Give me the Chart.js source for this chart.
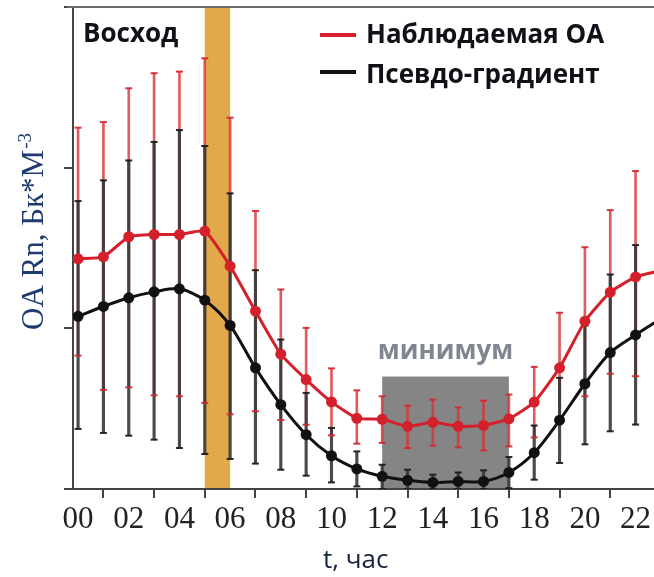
<!DOCTYPE html>
<html>
<head>
<meta charset="utf-8">
<script src="https://cdn.jsdelivr.net/npm/chart.js@4.4.1/dist/chart.umd.min.js"></script>
<style>
html,body{margin:0;padding:0;background:#fff;overflow:hidden;width:654px;height:577px;}
canvas{display:block;}
</style>
</head>
<body>
<canvas id="c" width="700" height="577" style="width:700px;height:577px"></canvas>
<script>
// ---- data ----
const hours = [0,1,2,3,4,5,6,7,8,9,10,11,12,13,14,15,16,17,18,19,20,21,22,23];
const tickHours = [0,2,4,6,8,10,12,14,16,18,20,22];
const tickLabels = ["00","02","04","06","08","10","12","14","16","18","20","22"];

const observed   = [1.433,1.445,1.570,1.584,1.584,1.605,1.387,1.107,0.839,0.681,0.542,0.440,0.434,0.390,0.415,0.390,0.396,0.436,0.541,0.754,1.044,1.225,1.320,1.360];
const observedHi = [2.249,2.284,2.494,2.588,2.598,2.681,2.311,1.730,1.242,1.003,0.751,0.614,0.577,0.519,0.556,0.508,0.550,0.588,0.760,1.097,1.505,1.736,1.979,2.000];
const observedLo = [0.830,0.617,0.633,0.583,0.577,0.536,0.465,0.484,0.430,0.400,0.334,0.282,0.287,0.255,0.270,0.259,0.240,0.265,0.321,0.410,0.577,0.717,0.702,0.720];

const pseudo     = [1.075,1.136,1.190,1.227,1.246,1.175,1.018,0.754,0.525,0.338,0.207,0.125,0.079,0.054,0.041,0.047,0.047,0.103,0.226,0.428,0.655,0.849,0.959,1.060];
const pseudoHi   = [1.792,1.921,2.045,2.160,2.234,2.135,1.840,1.362,0.930,0.598,0.380,0.234,0.151,0.120,0.089,0.103,0.116,0.199,0.395,0.692,1.017,1.335,1.518,1.600];
const pseudoLo   = [0.374,0.349,0.332,0.307,0.255,0.218,0.187,0.158,0.120,0.083,0.041,0.016,0.000,0.000,0.000,0.000,0.000,0.005,0.058,0.162,0.278,0.359,0.401,0.450];

const sunriseBand = [5, 6];          // hours
const minimumBox  = [12, 17, 0.7];   // from hour, to hour, top value

const seriesNames = ["Наблюдаемая ОА", "Псевдо-градиент"];
const sunriseText = "Восход";
const minimumText = "минимум";
const xTitle = "t, час";
const yTitleMain = "OA Rn, Бк*М";
const yTitleSup = "-3";

// ---- colours ----
const RED = '#d4202a';
const BLACK = '#111111';

const pts = (arr) => hours.map((h, i) => ({x: h, y: arr[i]}));
const bars = (lo, hi) => hours.map((h, i) => ({x: h, y: [lo[i], hi[i]]}));
const caps = (arr) => hours.map((h, i) => ({x: h, y: arr[i]}));

const annot = {
  id: 'annot',
  beforeDraw(chart) {
    const {ctx, chartArea: a, scales: {x, y}} = chart;
    ctx.save();
    ctx.fillStyle = '#e2a94b';
    const b0 = x.getPixelForValue(sunriseBand[0]), b1 = x.getPixelForValue(sunriseBand[1]);
    ctx.fillRect(b0, a.top, b1 - b0, a.bottom - a.top);
    ctx.fillStyle = '#858585';
    const m0 = x.getPixelForValue(minimumBox[0]), m1 = x.getPixelForValue(minimumBox[1]);
    const mt = y.getPixelForValue(minimumBox[2]), mb = y.getPixelForValue(0);
    ctx.fillRect(m0, mt, m1 - m0, mb - mt);
    ctx.restore();
  },
  afterDraw(chart) {
    const {ctx, chartArea: a, scales: {x, y}} = chart;
    ctx.save();
    // top frame line
    ctx.strokeStyle = '#6a6a6a';
    ctx.lineWidth = 2;
    ctx.beginPath();
    ctx.moveTo(a.left - 6, a.top);
    ctx.lineTo(a.right, a.top);
    ctx.stroke();

    // sunrise label
    ctx.fillStyle = '#101018';
    ctx.font = 'bold 26px "Open Sans"';
    ctx.textAlign = 'left';
    ctx.textBaseline = 'alphabetic';
    ctx.fillText(sunriseText, 83, 42);

    // legend
    const lx = 320, lw = 36;
    ctx.lineWidth = 4;
    ctx.strokeStyle = RED;
    ctx.beginPath(); ctx.moveTo(lx, 35); ctx.lineTo(lx + lw, 35); ctx.stroke();
    ctx.strokeStyle = BLACK;
    ctx.beginPath(); ctx.moveTo(lx, 72); ctx.lineTo(lx + lw, 72); ctx.stroke();
    ctx.fillText(seriesNames[0], 366, 43);
    ctx.fillText(seriesNames[1], 366, 83);

    // minimum label
    ctx.fillStyle = '#7f8591';
    ctx.textAlign = 'center';
    const mc = (x.getPixelForValue(minimumBox[0]) + x.getPixelForValue(minimumBox[1])) / 2;
    ctx.fillText(minimumText, mc, 359);

    // x title
    ctx.fillStyle = '#16223f';
    ctx.font = '26px "Open Sans"';
    ctx.textAlign = 'left';
    ctx.fillText(xTitle, 323, 568);

    // y title (rotated)
    ctx.translate(43, 330);
    ctx.rotate(-Math.PI / 2);
    ctx.fillStyle = '#1f3a6e';
    ctx.font = '31px "Liberation Serif"';
    ctx.textAlign = 'left';
    ctx.fillText(yTitleMain, 0, 0);
    const w = ctx.measureText(yTitleMain).width;
    ctx.font = '19px "Liberation Serif"';
    ctx.fillText(yTitleSup, w + 1, -12);
    ctx.restore();
  }
};

new Chart(document.getElementById('c'), {
  type: 'line',
  data: {
    datasets: [
      { type: 'line', label: seriesNames[0], data: pts(observed), borderColor: RED, backgroundColor: RED,
        borderWidth: 3, pointRadius: 5.5, pointBackgroundColor: RED, pointBorderWidth: 0, tension: 0.15, order: 1 },
      { type: 'line', label: seriesNames[1], data: pts(pseudo), borderColor: BLACK, backgroundColor: BLACK,
        borderWidth: 3, pointRadius: 5.5, pointBackgroundColor: BLACK, pointBorderWidth: 0, tension: 0.28, order: 2 },
      { type: 'line', label: 'obsHiCap', data: caps(observedHi), showLine: false, pointStyle: 'line',
        pointRadius: 3.5, borderColor: 'rgba(210,40,45,0.9)', pointBorderWidth: 2, order: 3 },
      { type: 'line', label: 'obsLoCap', data: caps(observedLo), showLine: false, pointStyle: 'line',
        pointRadius: 3.5, borderColor: 'rgba(210,40,45,0.9)', pointBorderWidth: 2, order: 3 },
      { type: 'line', label: 'psHiCap', data: caps(pseudoHi), showLine: false, pointStyle: 'line',
        pointRadius: 3.5, borderColor: 'rgba(30,30,30,0.95)', pointBorderWidth: 2, order: 4 },
      { type: 'line', label: 'psLoCap', data: caps(pseudoLo), showLine: false, pointStyle: 'line',
        pointRadius: 3.5, borderColor: 'rgba(30,30,30,0.95)', pointBorderWidth: 2, order: 4 },
      { type: 'bar', label: 'psErr', data: bars(pseudoLo, pseudoHi), backgroundColor: 'rgba(55,55,55,0.9)',
        barThickness: 2.5, grouped: false, borderWidth: 0, order: 5 },
      { type: 'bar', label: 'obsErr', data: bars(observedLo, observedHi), backgroundColor: 'rgba(215,50,55,0.8)',
        barThickness: 2, grouped: false, borderWidth: 0, order: 6 }
    ]
  },
  options: {
    responsive: false,
    animation: false,
    devicePixelRatio: 1,
    layout: { padding: { left: 0, top: 7, right: 34, bottom: 0 } },
    plugins: { legend: { display: false }, tooltip: { enabled: false } },
    scales: {
      x: {
        type: 'linear', min: -0.2, max: 23.2, offset: false,
        afterFit: (s) => { s.height = 88; },
        afterBuildTicks: (s) => { s.ticks = tickHours.map(v => ({ value: v })); },
        ticks: {
          callback: (v) => tickLabels[tickHours.indexOf(v)],
          font: { family: '"Liberation Serif"', size: 31 }, color: '#222', padding: 3,
          maxRotation: 0, autoSkip: false
        },
        grid: { drawOnChartArea: false, drawTicks: true, tickLength: 9, color: '#444', lineWidth: 2 },
        border: { display: true, color: '#444', width: 2 }
      },
      y: {
        type: 'linear', min: 0, max: 3,
        afterFit: (s) => { s.width = 73; },
        ticks: { display: false, stepSize: 1 },
        grid: { drawOnChartArea: false, drawTicks: true, tickLength: 9, color: '#444', lineWidth: 2 },
        border: { display: true, color: '#444', width: 2 }
      }
    }
  },
  plugins: [annot]
});
</script>
</body>
</html>
